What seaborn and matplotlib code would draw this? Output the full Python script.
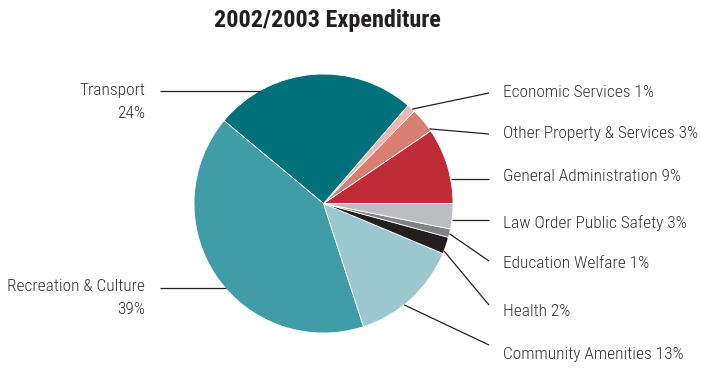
import matplotlib
matplotlib.use("Agg")
import matplotlib.pyplot as plt
import matplotlib.font_manager as fm
import numpy as np
import seaborn as sns

sns.set_theme(style="white")

# Expenditure shares, listed counter-clockwise starting from 3 o'clock
categories = [
    "General Administration",
    "Other Property & Services",
    "Economic Services",
    "Transport",
    "Recreation & Culture",
    "Community Amenities",
    "Health",
    "Education Welfare",
    "Law Order Public Safety",
]
shares = [9, 3, 1, 24, 39, 13, 2, 1, 3]
colors = [
    "#C02B38", "#D97E70", "#EDB8AE", "#00707A", "#409DA7",
    "#9BC7CF", "#231F20", "#808285", "#BBBDC0",
]
title = "2002/2003 Expenditure"

# pick a condensed face if available
installed = {f.name for f in fm.fontManager.ttflist}
family = "DejaVu Sans"
for cand in ["Roboto Condensed", "Archivo Narrow", "Sofia Sans Condensed",
             "Encode Sans Condensed", "Saira SemiCondensed"]:
    if cand in installed:
        family = cand
        break
plt.rcParams["font.family"] = [family, "DejaVu Sans"]

W, H, DPI = 701, 368, 100
fig = plt.figure(figsize=(W / DPI, H / DPI), dpi=DPI)
ax = fig.add_axes([0, 0, 1, 1])

R_PX = 129.5            # pie radius in pixels
CX, CY = 323.5, 203.5   # pie centre in pixels (from top-left)

def px(x, y):
    """pixel position (from top-left) -> data coordinates (pie radius = 1)"""
    return (x - CX) / R_PX, (CY - y) / R_PX

wedges, _ = ax.pie(
    shares, colors=colors, startangle=0, counterclock=True, radius=1,
    wedgeprops=dict(edgecolor="white", linewidth=0.6),
)

x0, y0 = px(0, H)
x1, y1 = px(W, 0)
ax.set_xlim(x0, x1)
ax.set_ylim(y0, y1)
ax.set_aspect("equal")
ax.axis("off")

text_color = "#333333"
line_color = "#222222"
fs = 12.5
light = 300

def edge_point(angle_deg, r=1.0):
    a = np.deg2rad(angle_deg)
    return r * np.cos(a), r * np.sin(a)

def label_for(i):
    return f"{categories[i]} {shares[i]}%"

# right-hand labels: (index, anchor angle on the rim, line end y px, text y px)
right = [
    (2, 46.8, 93, 92),
    (1, 35.2, 134, 133),
    (0, None, 179, 176),
    (8, None, 220, 223),
    (7, -13.5, 261, 264),
    (6, -21.5, 305, 312),
    (5, -51.5, 345, 354),
]
xe, _ = px(489, 0)
xt, _ = px(503, 0)
for idx, ang, ly, ty in right:
    _, ye = px(0, ly)
    if ang is None:
        # horizontal leader meeting the rim
        xs = np.sqrt(max(1 - ye ** 2, 0))
        ys = ye
    else:
        xs, ys = edge_point(ang)
    ax.plot([xs, xe], [ys, ye], color=line_color, lw=0.9, solid_capstyle="butt")
    _, yt = px(0, ty)
    ax.text(xt, yt, label_for(idx), ha="left", va="center",
            fontsize=fs, fontweight=light, color=text_color)

# left-hand labels with horizontal leaders
left = [(3, 90.7, 90.5), (4, 288.3, 286.5)]
xl, _ = px(160, 0)
xr, _ = px(145, 0)
for idx, ly, ty in left:
    _, ye = px(0, ly)
    xs = -np.sqrt(max(1 - ye ** 2, 0))
    ax.plot([xl, xs], [ye, ye], color=line_color, lw=0.9, solid_capstyle="butt")
    _, yt = px(0, ty)
    _, yt2 = px(0, ty + 23)
    ax.text(xr, yt, categories[idx], ha="right", va="center",
            fontsize=fs, fontweight=light, color=text_color)
    ax.text(xr, yt2, f"{shares[idx]}%", ha="right", va="center",
            fontsize=fs, fontweight=light, color=text_color)

tx, ty = px(327, 20.5)
ax.text(tx, ty, title, ha="center", va="center", fontsize=17.5,
        fontweight="bold", color="#231F20")

fig.savefig("out.png", dpi=DPI)
